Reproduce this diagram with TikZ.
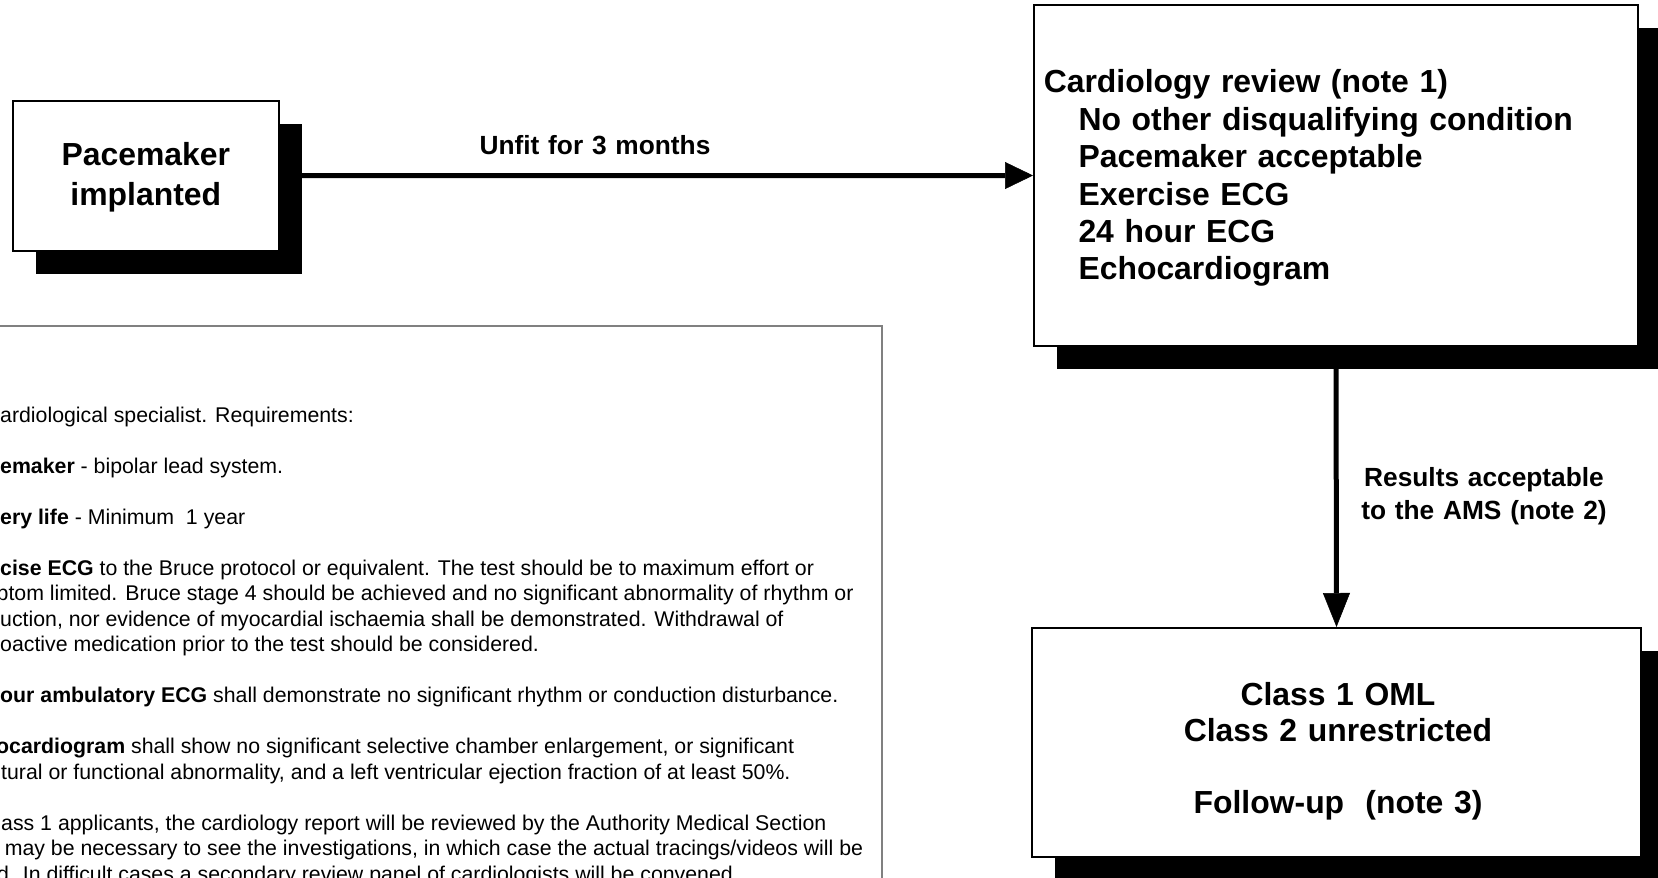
\documentclass[tikz,border=0pt]{standalone}
\usepackage{fontspec}
\setmainfont{Liberation Sans}
\usetikzlibrary{arrows.meta,shadows}
\begin{document}
\begin{tikzpicture}[x=1pt,y=-1pt,
  box/.style={draw=black, line width=2pt, fill=white, inner sep=0pt, rectangle,
     drop shadow={shadow xshift=23pt, shadow yshift=-23pt, fill=black, opacity=1}},
  bigtext/.style={font=\fontsize{31.9pt}{37.4pt}\selectfont\bfseries, inner sep=0pt},
  lbl/.style={font=\fontsize{26.3pt}{32.6pt}\selectfont\bfseries, inner sep=0pt, anchor=base, text width=320pt, align=center},
  note/.style={font=\fontsize{21.3pt}{25.5pt}\selectfont, inner sep=0pt, anchor=base west},
  flow/.style={line width=5pt, -{Triangle[length=28pt, width=27pt, line width=0.5pt]}},
  flowv/.style={line width=5pt, -{Triangle[length=34pt, width=27pt, line width=0.5pt]}},
]
\useasboundingbox (0,0) rectangle (1658,878);
\fill[white] (0,0) rectangle (1658,878);
\begin{scope}
\clip (0,0) rectangle (1658,878);

% notes box (partly outside the picture)
\draw[black!50, line width=1.5pt] (-10,326) -- (882,326) -- (882,890);

\node[note] (n1) at (0,422) {ardiological specialist. Requirements:};
\node[note] (n2) at (0,473) {\textbf{emaker} - bipolar lead system.};
\node[note] (n3) at (0,524) {\textbf{ery life} - Minimum\ \ 1 year};
\node[note] (n4) at (0,575) {\textbf{cise ECG} to the Bruce protocol or equivalent. The test should be to maximum effort or};
\node[note] (n5) at (-3.5,600.5) {ptom limited. Bruce stage 4 should be achieved and no significant abnormality of rhythm or};
\node[note] (n6) at (0,626) {uction, nor evidence of myocardial ischaemia shall be demonstrated. Withdrawal of};
\node[note] (n7) at (0,651.5) {oactive medication prior to the test should be considered.};
\node[note] (n8) at (0,702.5) {\textbf{our ambulatory ECG} shall demonstrate no significant rhythm or conduction disturbance.};
\node[note] (n9) at (-4,753.5) {\textbf{ocardiogram} shall show no significant selective chamber enlargement, or significant};
\node[note] (n10) at (1,779) {tural or functional abnormality, and a left ventricular ejection fraction of at least 50\%.};
\node[note] (n11) at (1,830) {ass 1 applicants, the cardiology report will be reviewed by the Authority Medical Section};
\node[note] (n12) at (4.6,855.5) {may be necessary to see the investigations, in which case the actual tracings/videos will be};
\node[note] (n13) at (-3,881) {d. In difficult cases a secondary review panel of cardiologists will be convened.};

% boxes
\node[box, minimum width=266.3pt, minimum height=150pt] (pm) at (145.8,175.7) {};
\node[box, minimum width=604pt, minimum height=341pt] (card) at (1336,175.5) {};
\node[box, minimum width=609pt, minimum height=228.5pt] (cls) at (1336.5,742.25) {};

% box texts
\node[bigtext, font=\fontsize{31.9pt}{40pt}\selectfont\bfseries, anchor=base, text width=260pt, align=center] (pmt) at (145.8,165) {Pacemaker\\implanted};
\node[bigtext, anchor=base west, text width=590pt, align=left] (cardt) at (1043.6,92.8) {Cardiology review (note 1)\\
\hspace*{34.7pt}No other disqualifying condition\\
\hspace*{34.7pt}Pacemaker acceptable\\
\hspace*{34.7pt}Exercise ECG\\
\hspace*{34.7pt}24 hour ECG\\
\hspace*{34.7pt}Echocardiogram};
\node[bigtext, font=\fontsize{31.9pt}{36pt}\selectfont\bfseries, anchor=base, text width=600pt, align=center] (clst) at (1338,705) {Class 1 OML\\Class 2 unrestricted\\[36pt]Follow-up~~(note 3)};

% connectors
\draw[flow] (pm.east) -- (card.west);
\draw[flowv] (card.south) -- (cls.north);

% labels
\node[lbl] (l1) at (595,154.4) {Unfit for 3 months};
\node[lbl] (l2) at (1484,486.4) {Results acceptable\\to the AMS (note 2)};
\end{scope}
\end{tikzpicture}
\end{document}
